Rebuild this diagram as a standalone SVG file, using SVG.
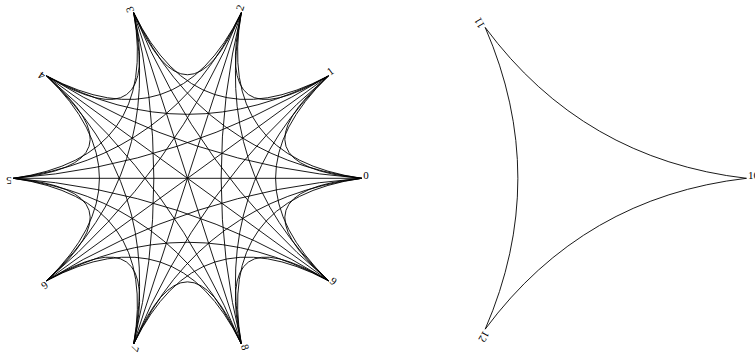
<svg xmlns="http://www.w3.org/2000/svg" width="755" height="356" viewBox="0 0 755 356">
<style>
.e{fill:none;stroke:#000;stroke-width:0.9}
.l{font-family:"Liberation Serif","Times New Roman",serif;font-size:11px;fill:#000}
</style>
<rect width="755" height="356" fill="#fff"/>
<g id="connectors">
<g id="edges-k10" transform="translate(187.5,178.3)">
<path class="e" d="M174.2,0Q39.39,-12.8 140.93,-102.39"/>
<path class="e" d="M174.2,0Q28.5,-20.71 53.83,-165.67"/>
<path class="e" d="M174.2,0Q15.05,-20.71 -53.83,-165.67"/>
<path class="e" d="M174.2,0Q4.16,-12.8 -140.93,-102.39"/>
<path class="e" d="M174.2,0L-174.2,0"/>
<path class="e" d="M174.2,0Q4.16,12.8 -140.93,102.39"/>
<path class="e" d="M174.2,0Q15.05,20.71 -53.83,165.67"/>
<path class="e" d="M174.2,0Q28.5,20.71 53.83,165.67"/>
<path class="e" d="M174.2,0Q39.39,12.8 140.93,102.39"/>
<path class="e" d="M140.93,-102.39Q24.35,-33.51 53.83,-165.67"/>
<path class="e" d="M140.93,-102.39Q10.89,-33.51 -53.83,-165.67"/>
<path class="e" d="M140.93,-102.39Q0,-25.6 -140.93,-102.39"/>
<path class="e" d="M140.93,-102.39Q-4.16,-12.8 -174.2,0"/>
<path class="e" d="M140.93,-102.39L-140.93,102.39"/>
<path class="e" d="M140.93,-102.39Q10.89,7.91 -53.83,165.67"/>
<path class="e" d="M140.93,-102.39Q24.35,7.91 53.83,165.67"/>
<path class="e" d="M140.93,-102.39Q35.23,0 140.93,102.39"/>
<path class="e" d="M53.83,-165.67Q0,-41.42 -53.83,-165.67"/>
<path class="e" d="M53.83,-165.67Q-10.89,-33.51 -140.93,-102.39"/>
<path class="e" d="M53.83,-165.67Q-15.05,-20.71 -174.2,0"/>
<path class="e" d="M53.83,-165.67Q-10.89,-7.91 -140.93,102.39"/>
<path class="e" d="M53.83,-165.67L-53.83,165.67"/>
<path class="e" d="M53.83,-165.67Q13.46,0 53.83,165.67"/>
<path class="e" d="M53.83,-165.67Q24.35,-7.91 140.93,102.39"/>
<path class="e" d="M-53.83,-165.67Q-24.35,-33.51 -140.93,-102.39"/>
<path class="e" d="M-53.83,-165.67Q-28.5,-20.71 -174.2,0"/>
<path class="e" d="M-53.83,-165.67Q-24.35,-7.91 -140.93,102.39"/>
<path class="e" d="M-53.83,-165.67Q-13.46,0 -53.83,165.67"/>
<path class="e" d="M-53.83,-165.67L53.83,165.67"/>
<path class="e" d="M-53.83,-165.67Q10.89,-7.91 140.93,102.39"/>
<path class="e" d="M-140.93,-102.39Q-39.39,-12.8 -174.2,0"/>
<path class="e" d="M-140.93,-102.39Q-35.23,0 -140.93,102.39"/>
<path class="e" d="M-140.93,-102.39Q-24.35,7.91 -53.83,165.67"/>
<path class="e" d="M-140.93,-102.39Q-10.89,7.91 53.83,165.67"/>
<path class="e" d="M-140.93,-102.39L140.93,102.39"/>
<path class="e" d="M-174.2,0Q-39.39,12.8 -140.93,102.39"/>
<path class="e" d="M-174.2,0Q-28.5,20.71 -53.83,165.67"/>
<path class="e" d="M-174.2,0Q-15.05,20.71 53.83,165.67"/>
<path class="e" d="M-174.2,0Q-4.16,12.8 140.93,102.39"/>
<path class="e" d="M-140.93,102.39Q-24.35,33.51 -53.83,165.67"/>
<path class="e" d="M-140.93,102.39Q-10.89,33.51 53.83,165.67"/>
<path class="e" d="M-140.93,102.39Q0,25.6 140.93,102.39"/>
<path class="e" d="M-53.83,165.67Q0,41.42 53.83,165.67"/>
<path class="e" d="M-53.83,165.67Q10.89,33.51 140.93,102.39"/>
<path class="e" d="M53.83,165.67Q24.35,33.51 140.93,102.39"/>
</g>
<g id="edges-k3" transform="translate(572.3,178.3)">
<path class="e" d="M174.2,0Q10.89,-18.86 -87.1,-150.86"/>
<path class="e" d="M174.2,0Q10.89,18.86 -87.1,150.86"/>
<path class="e" d="M-87.1,-150.86Q-21.78,0 -87.1,150.86"/>
</g>
</g>
<g id="node-0" transform="translate(361.7,178.3)"><text class="l" x="1.5" y="1">0</text></g>
<g id="node-1" transform="translate(328.43,75.91) rotate(-36)"><text class="l" x="1.5" y="1">1</text></g>
<g id="node-2" transform="translate(241.33,12.63) rotate(-72)"><text class="l" x="1.5" y="1">2</text></g>
<g id="node-3" transform="translate(133.67,12.63) rotate(-108)"><text class="l" x="1.5" y="1">3</text></g>
<g id="node-4" transform="translate(46.57,75.91) rotate(-144)"><text class="l" x="1.5" y="1">4</text></g>
<g id="node-5" transform="translate(13.3,178.3) rotate(-180)"><text class="l" x="1.5" y="1">5</text></g>
<g id="node-6" transform="translate(46.57,280.69) rotate(-216)"><text class="l" x="1.5" y="1">6</text></g>
<g id="node-7" transform="translate(133.67,343.97) rotate(-252)"><text class="l" x="1.5" y="1">7</text></g>
<g id="node-8" transform="translate(241.33,343.97) rotate(-288)"><text class="l" x="1.5" y="1">8</text></g>
<g id="node-9" transform="translate(328.43,280.69) rotate(-324)"><text class="l" x="1.5" y="1">9</text></g>
<g id="node-10" transform="translate(746.5,178.3)"><text class="l" x="1.5" y="1">10</text></g>
<g id="node-11" transform="translate(485.2,27.44) rotate(-120)"><text class="l" x="1.5" y="1">11</text></g>
<g id="node-12" transform="translate(485.2,329.16) rotate(-240)"><text class="l" x="1.5" y="1">12</text></g>
</svg>
